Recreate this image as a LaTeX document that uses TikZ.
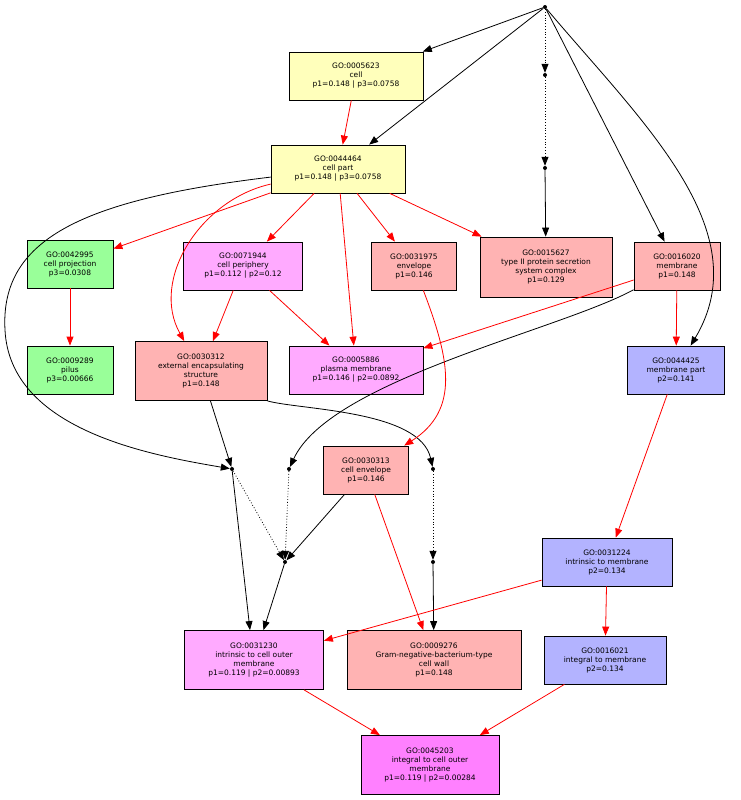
\documentclass[tikz,border=0pt]{standalone}
\usepackage{fontspec}
\setmainfont{DejaVu Sans}
\usepackage{tikz}
\usetikzlibrary{arrows.meta}
\definecolor{goyel}{HTML}{FFFFBB}
\definecolor{gogrn}{HTML}{99FF99}
\definecolor{gopnk}{HTML}{FFAAFF}
\definecolor{gosal}{HTML}{FFB3B3}
\definecolor{golav}{HTML}{B3B3FF}
\definecolor{gomag}{HTML}{FF80FF}
\tikzset{
  term/.style={draw, thick, align=center, inner sep=1pt, font=\fontsize{7.5}{9}\selectfont},
  pt/.style={circle, fill, inner sep=0pt, minimum size=4pt},
  isa/.style={->, >={Triangle[length=9pt,width=7pt]}, thick},
  rel/.style={isa, red},
  wk/.style={isa, dotted}
}
\begin{document}
\begin{tikzpicture}[x=1pt,y=-1pt]
\useasboundingbox (0,0) rectangle (741,800);
\node[pt] (top) at (545,7) {};
\node[pt] (d1) at (545,75) {};
\node[pt] (d2) at (545,168) {};
\node[pt] (d3) at (232,469) {};
\node[pt] (d4) at (289,469) {};
\node[pt] (d5) at (433,469) {};
\node[pt] (d6) at (285,562) {};
\node[pt] (d7) at (433,562) {};

\node[term, fill=goyel, minimum width=134pt, minimum height=48pt] (n5623) at (356,76) {GO:0005623\\cell\\p1=0.148 | p3=0.0758};
\node[term, fill=goyel, minimum width=134pt, minimum height=48pt] (n44464) at (338,169) {GO:0044464\\cell part\\p1=0.148 | p3=0.0758};
\node[term, fill=gogrn, minimum width=86pt, minimum height=48pt] (n42995) at (70,264) {GO:0042995\\cell projection\\p3=0.0308};
\node[term, fill=gopnk, minimum width=119pt, minimum height=48pt] (n71944) at (243,266) {GO:0071944\\cell periphery\\p1=0.112 | p2=0.12};
\node[term, fill=gosal, minimum width=85pt, minimum height=48pt] (n31975) at (414,266) {GO:0031975\\envelope\\p1=0.146};
\node[term, fill=gosal, minimum width=132pt, minimum height=60pt] (n15627) at (546,267) {GO:0015627\\type II protein secretion\\system complex\\p1=0.129};
\node[term, fill=gosal, minimum width=86pt, minimum height=48pt] (n16020) at (677,266) {GO:0016020\\membrane\\p1=0.148};
\node[term, fill=gogrn, minimum width=86pt, minimum height=48pt] (n9289) at (70,370) {GO:0009289\\pilus\\p3=0.00666};
\node[term, fill=gosal, minimum width=132pt, minimum height=59pt] (n30312) at (201,371) {GO:0030312\\external encapsulating\\structure\\p1=0.148};
\node[term, fill=gopnk, minimum width=134pt, minimum height=48pt] (n5886) at (356,370) {GO:0005886\\plasma membrane\\p1=0.146 | p2=0.0892};
\node[term, fill=golav, minimum width=97pt, minimum height=48pt] (n44425) at (676,370) {GO:0044425\\membrane part\\p2=0.141};
\node[term, fill=gosal, minimum width=85pt, minimum height=48pt] (n30313) at (366,470) {GO:0030313\\cell envelope\\p1=0.146};
\node[term, fill=golav, minimum width=130pt, minimum height=48pt] (n31224) at (607,562) {GO:0031224\\intrinsic to membrane\\p2=0.134};
\node[term, fill=gopnk, minimum width=139pt, minimum height=59pt] (n31230) at (254,660) {GO:0031230\\intrinsic to cell outer\\membrane\\p1=0.119 | p2=0.00893};
\node[term, fill=gosal, minimum width=174pt, minimum height=59pt] (n9276) at (434,660) {GO:0009276\\Gram-negative-bacterium-type\\cell wall\\p1=0.148};
\node[term, fill=golav, minimum width=122pt, minimum height=48pt] (n16021) at (605,660) {GO:0016021\\integral to membrane\\p2=0.134};
\node[term, fill=gomag, minimum width=138pt, minimum height=59pt] (n45203) at (430,765) {GO:0045203\\integral to cell outer\\membrane\\p1=0.119 | p2=0.00284};

% black links
\draw[isa] (top) -- (n5623);
\draw[isa] (top) -- (n44464);
\draw[wk] (top) -- (d1);
\draw[wk] (d1) -- (d2);
\draw[isa] (d2) -- (n15627);
\draw[isa] (top) -- (n16020);
\draw[isa] (top) .. controls (640,120) and (760,230) .. (n44425);
\draw[isa] (n44464) .. controls (80,200) and (0,240) .. (5,330) .. controls (10,430) and (150,455) .. (d3);
\draw[isa] (n30312) -- (d3);
\draw[isa] (n30312.south east) .. controls (300,410) and (420,410) .. (d5);
\draw[isa] (n16020) .. controls (560,330) and (330,380) .. (d4);
\draw[wk] (d3) -- (d6);
\draw[wk] (d4) -- (d6);
\draw[isa] (n30313) -- (d6);
\draw[isa] (d6) -- (n31230);
\draw[isa] (d3) -- (n31230.north west -| 250,0);
\draw[wk] (d5) -- (d7);
\draw[isa] (d7) -- (n9276);

% red links
\draw[rel] (n5623) -- (n44464);
\draw[rel] (n44464) -- (n42995);
\draw[rel] (n44464) -- (n71944);
\draw[rel] (n44464) .. controls (200,200) and (150,280) .. (n30312);
\draw[rel] (n44464) -- (n5886);
\draw[rel] (n44464) -- (n31975);
\draw[rel] (n44464) -- (n15627);
\draw[rel] (n42995) -- (n9289);
\draw[rel] (n71944) -- (n30312);
\draw[rel] (n71944) -- (n5886);
\draw[rel] (n31975) .. controls (450,360) and (460,410) .. (n30313);
\draw[rel] (n16020) -- (n5886);
\draw[rel] (n16020) -- (n44425);
\draw[rel] (n44425) -- (n31224);
\draw[rel] (n31224) -- (n31230);
\draw[rel] (n31224) -- (n16021);
\draw[rel] (n30313) -- (n9276);
\draw[rel] (n31230) -- (n45203);
\draw[rel] (n16021) -- (n45203);
\end{tikzpicture}
\end{document}
